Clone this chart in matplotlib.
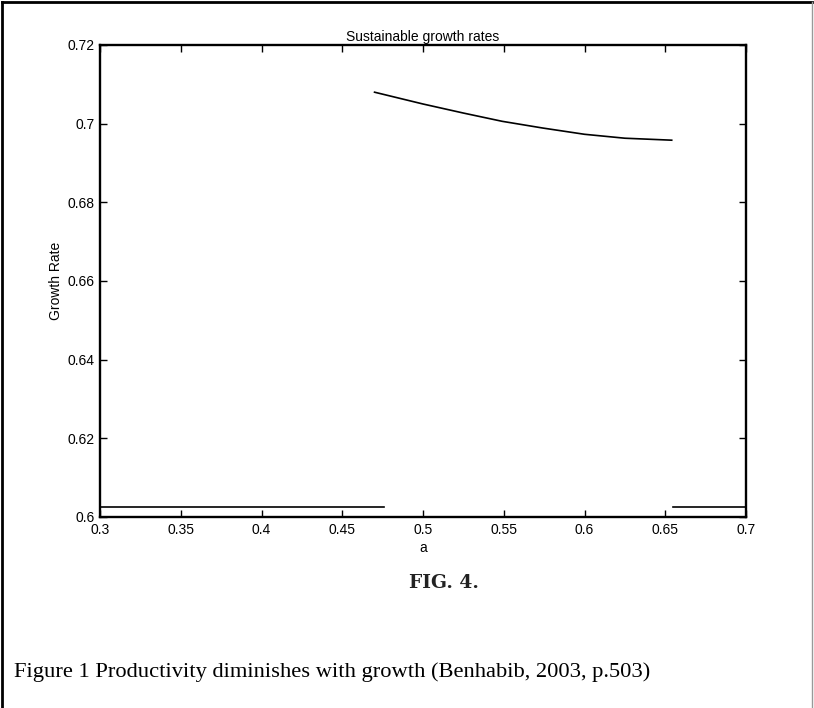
import matplotlib
matplotlib.use("Agg")
import matplotlib.pyplot as plt
from matplotlib.lines import Line2D

# Values
curve_a = [0.470, 0.500, 0.525, 0.549, 0.574, 0.600, 0.625, 0.654]
curve_rate = [0.7080, 0.7050, 0.7027, 0.7006, 0.6989, 0.6973, 0.6963, 0.6958]

low_left_a = [0.30, 0.476]
low_right_a = [0.655, 0.70]
low_rate = 0.6025

x_ticks = [0.3, 0.35, 0.4, 0.45, 0.5, 0.55, 0.6, 0.65, 0.7]
x_labels = ["0.3", "0.35", "0.4", "0.45", "0.5", "0.55", "0.6", "0.65", "0.7"]
y_ticks = [0.6, 0.62, 0.64, 0.66, 0.68, 0.7, 0.72]
y_labels = ["0.6", "0.62", "0.64", "0.66", "0.68", "0.7", "0.72"]

plt.rcParams["font.family"] = ["Liberation Sans", "DejaVu Sans"]

W, H = 814, 708
fig = plt.figure(figsize=(W / 100, H / 100), dpi=100)
ax = fig.add_axes([100 / W, 1 - 517 / H, 646 / W, 472 / H])

ax.plot(curve_a, curve_rate, color="black", lw=1.2, solid_joinstyle="round")
ax.plot(low_left_a, [low_rate] * len(low_left_a), color="black", lw=1.2)
ax.plot(low_right_a, [low_rate] * len(low_right_a), color="black", lw=1.2)

ax.set_xlim(0.3, 0.7)
ax.set_ylim(0.6, 0.72)
ax.set_xticks(x_ticks)
ax.set_xticklabels(x_labels)
ax.set_yticks(y_ticks)
ax.set_yticklabels(y_labels)
ax.tick_params(direction="in", length=5, width=1.0, top=True, right=True,
               labelsize=10, colors="black")
ax.tick_params(axis="x", pad=4)
ax.tick_params(axis="y", pad=4)
for s in ax.spines.values():
    s.set_linewidth(1.7)

ax.set_title("Sustainable growth rates", fontsize=10, pad=3)
ax.set_xlabel("a", fontsize=10, labelpad=3)
ax.set_ylabel("Growth Rate", fontsize=10, labelpad=3)

fig.text(444 / W, 1 - 583 / H, "FIG. 4.", ha="center", va="center",
         fontsize=13.5, fontweight="bold", family="DejaVu Serif", color="#222222")
fig.text(14 / W, 1 - 672 / H,
         "Figure 1 Productivity diminishes with growth (Benhabib, 2003, p.503)",
         ha="left", va="center", fontsize=16.2, family="Liberation Serif")

# outer frame (top, left, right)
fig.add_artist(Line2D([2 / W, 812 / W], [1 - 2 / H, 1 - 2 / H], color="black", lw=2))
fig.add_artist(Line2D([2 / W, 2 / W], [0, 1 - 2 / H], color="black", lw=2))
fig.add_artist(Line2D([812 / W, 812 / W], [0, 1 - 2 / H], color="#999999", lw=1))

fig.savefig("out.png", dpi=100)
